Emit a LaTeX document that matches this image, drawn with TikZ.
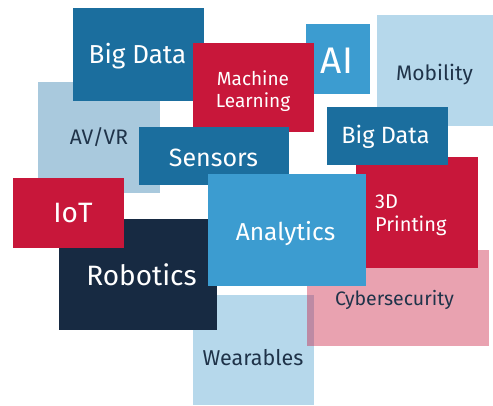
\documentclass[tikz,border=0pt]{standalone}
\usepackage{fontspec}
\setmainfont{Fira Sans}
\definecolor{deepblue}{HTML}{1B6E9E}
\definecolor{midblue}{HTML}{3C9CD0}
\definecolor{paleblue}{HTML}{B6D8EB}
\definecolor{greyblue}{HTML}{A9C9DD}
\definecolor{crimson}{HTML}{C8173A}
\definecolor{navy}{HTML}{172A42}
\definecolor{inkdark}{HTML}{1F3349}
\tikzset{
  tile/.style={anchor=north west, inner sep=0pt, outer sep=0pt, draw=none},
  word/.style={anchor=base, inner sep=0pt, text=white},
  darkword/.style={word, text=inkdark},
  fs/.style={font=\fontsize{#1}{#1}\selectfont}
}
\newcommand{\tile}[6]{%
  \node[tile, fill=#6, minimum width=#4-#2, minimum height=#5-#3] (#1) at (#2,#3) {};}
\begin{document}
\begin{tikzpicture}[x=1pt,y=-1pt]
\useasboundingbox (0,0) rectangle (493,405);
% tiles, back to front
\tile{avvr}{38}{82}{160}{193}{greyblue}
\tile{bigdataA}{73}{8}{204}{101}{deepblue}
\tile{ai}{306}{24}{370}{94}{midblue}
\tile{ml}{193}{43}{314}{132}{crimson}
\tile{mobility}{377}{15}{493}{126}{paleblue}
\tile{sensors}{139}{127}{289}{185}{deepblue}
\tile{wearables}{193}{295}{314}{405}{paleblue}
\node[tile, fill=crimson, fill opacity=0.4, minimum width=182, minimum height=96] (cyber) at (307,250) {};
\tile{printing}{356}{157}{478}{268}{crimson}
\tile{bigdataB}{327}{107}{448}{165}{deepblue}
\tile{robotics}{59}{219}{217}{330}{navy}
\tile{iot}{13}{178}{124}{248}{crimson}
\tile{analytics}{208}{174}{366}{286}{midblue}
% labels (multi-line labels sit on the baseline of their last line)
\node[word, fs=26] (bigdataAt) at (137.5,63) {Big Data};
\node[word, fs=19, align=center] (mlt) at (253,107) {Machine\\[3pt]Learning};
\node[word, fs=37] (ait) at (337,73) {AI};
\node[darkword, fs=21] (mobilityt) at (434.5,80) {Mobility};
\node[word, fs=23.5] (bigdataBt) at (385.5,143) {Big Data};
\node[darkword, fs=21] (avvrt) at (99,144) {AV/VR};
\node[word, fs=25] (sensorst) at (213.5,166) {Sensors};
\node[word, fs=28] (iott) at (73,222) {IoT};
\node[word, fs=28] (roboticst) at (141.5,285) {Robotics};
\node[word, fs=24.5] (analyticst) at (285.5,240) {Analytics};
\node[word, fs=20, anchor=base west, align=left] (printingt) at (375,231) {3D\\[3pt]Printing};
\node[darkword, fs=19.5] (cybert) at (394.5,305) {Cybersecurity};
\node[darkword, fs=21.5] (wearablest) at (253,365) {Wearables};
\end{tikzpicture}
\end{document}
